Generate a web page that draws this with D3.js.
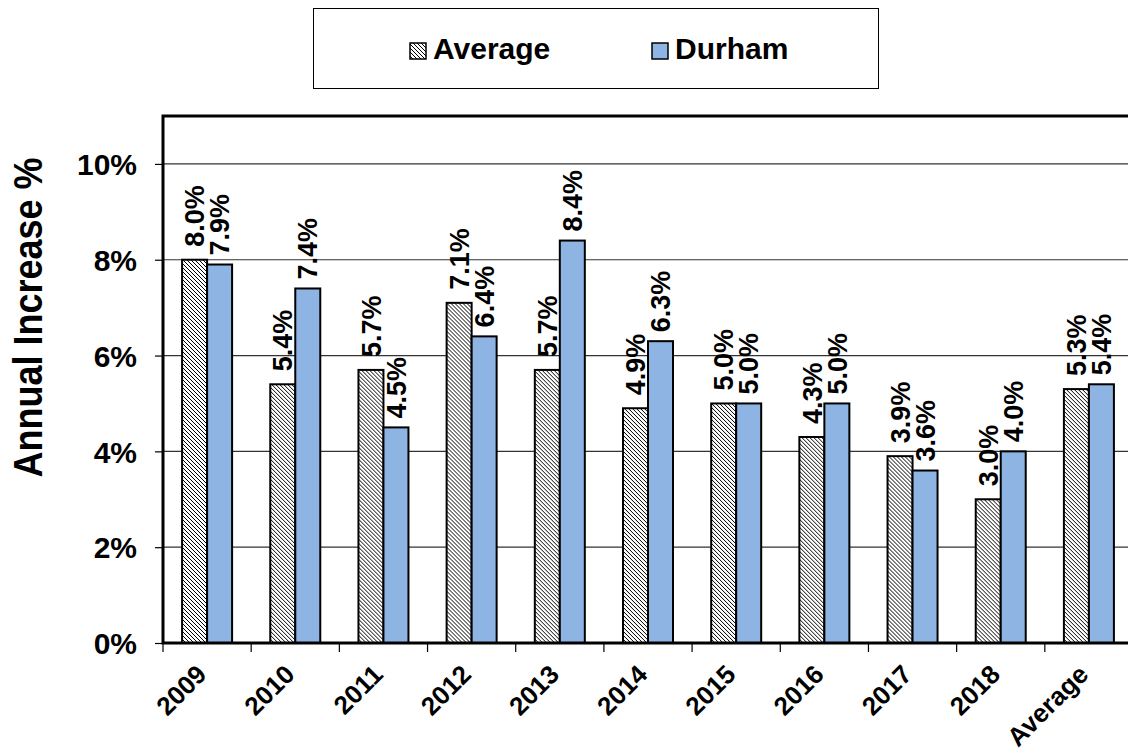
<!DOCTYPE html>
<html>
<head>
<meta charset="utf-8">
<script src="https://cdn.jsdelivr.net/npm/d3@7"></script>
<style>
  html, body { margin: 0; padding: 0; background: #fff; }
  svg { display: block; font-family: "Liberation Sans", Arial, sans-serif; font-weight: bold; }
</style>
</head>
<body>
<svg id="chart" width="1128" height="752"></svg>
<script>
// Annual increase (%) by year, regional average vs. Durham
const categories = ["2009", "2010", "2011", "2012", "2013", "2014", "2015", "2016", "2017", "2018", "Average"];
const seriesNames = ["Average", "Durham"];
const averageValues = [8.0, 5.4, 5.7, 7.1, 5.7, 4.9, 5.0, 4.3, 3.9, 3.0, 5.3];
const durhamValues = [7.9, 7.4, 4.5, 6.4, 8.4, 6.3, 5.0, 5.0, 3.6, 4.0, 5.4];
const yTicks = [0, 2, 4, 6, 8, 10];
const yTitle = "Annual Increase %";

const svg = d3.select("#chart");
const W = 1128, H = 752;
svg.append("rect").attr("width", W).attr("height", H).attr("fill", "#fff");

const plot = { left: 163, top: 116, right: 1133, bottom: 643 };
const durhamFill = "#8db4e2";

// hatched fill for the "Average" series
const defs = svg.append("defs");
const pat = defs.append("pattern")
  .attr("id", "hatch").attr("patternUnits", "userSpaceOnUse")
  .attr("width", 4).attr("height", 4);
pat.append("rect").attr("width", 4).attr("height", 4).attr("fill", "#fff");
pat.append("path").attr("d", "M-1,-1L5,5M-1,3L1,5M3,-1L5,1")
  .attr("stroke", "#000").attr("stroke-width", 1.0);

const x = d3.scaleBand().domain(categories).range([plot.left, plot.right]).padding(0);
const groupHalf = 25;
const x1 = d3.scaleBand().domain(seriesNames)
  .range([x.bandwidth() / 2 - groupHalf, x.bandwidth() / 2 + groupHalf]);
const y = d3.scaleLinear().domain([0, 11]).range([plot.bottom, plot.top]);

// gridlines
svg.append("g").selectAll("line").data(yTicks.filter(d => d > 0)).join("line")
  .attr("x1", plot.left).attr("x2", plot.right)
  .attr("y1", d => y(d)).attr("y2", d => y(d))
  .attr("stroke", "#333").attr("stroke-width", 1.2);

// y axis ticks and labels
const yAxis = d3.axisLeft(y).tickValues(yTicks).tickSize(8).tickFormat(d => d + "%");
const gy = svg.append("g").attr("transform", `translate(${plot.left},0)`).call(yAxis);
gy.select(".domain").remove();
gy.selectAll(".tick line").attr("stroke", "#000").attr("stroke-width", 1.2);
gy.selectAll(".tick text")
  .attr("x", -26).attr("dy", "0.36em")
  .attr("font-size", 30).attr("font-weight", "bold")
  .attr("font-family", "'Liberation Sans', Arial, sans-serif").attr("fill", "#000");

// x axis ticks at category boundaries
const boundaries = categories.map(c => x(c)).concat([plot.right]);
svg.append("g").selectAll("line").data(boundaries).join("line")
  .attr("x1", d => d).attr("x2", d => d)
  .attr("y1", plot.bottom).attr("y2", plot.bottom + 9)
  .attr("stroke", "#000").attr("stroke-width", 1.2);

// category labels, rotated
svg.append("g").selectAll("text").data(categories).join("text")
  .attr("transform", d => `translate(${x(d) + x.bandwidth() / 2 + 1},${plot.bottom + 33}) rotate(-45)`)
  .attr("text-anchor", "end")
  .attr("font-size", 26).attr("fill", "#000")
  .text(d => d);

// bars
const rows = categories.map((c, i) => ({ cat: c, values: [
  { series: "Average", value: averageValues[i] },
  { series: "Durham", value: durhamValues[i] }
]}));

const groups = svg.append("g").selectAll("g").data(rows).join("g")
  .attr("transform", d => `translate(${x(d.cat)},0)`);

groups.selectAll("rect").data(d => d.values).join("rect")
  .attr("x", d => x1(d.series))
  .attr("width", x1.bandwidth())
  .attr("y", d => y(d.value))
  .attr("height", d => y(0) - y(d.value))
  .attr("fill", d => d.series === "Average" ? "url(#hatch)" : durhamFill)
  .attr("stroke", "#000").attr("stroke-width", 2);

// value labels
const labelSize = 27;
groups.selectAll("text").data(d => d.values).join("text")
  .attr("transform", d => {
    const cx = x1(d.series) + x1.bandwidth() / 2 + 0.36 * labelSize;
    const gap = d.series === "Average" ? 13 : 9;
    return `translate(${cx},${y(d.value) - gap}) rotate(-90)`;
  })
  .attr("text-anchor", "start")
  .attr("font-size", labelSize).attr("fill", "#000")
  .text(d => d.value.toFixed(1) + "%");

// plot frame (right edge runs past the viewport)
svg.append("rect")
  .attr("x", plot.left).attr("y", plot.top)
  .attr("width", plot.right - plot.left).attr("height", plot.bottom - plot.top)
  .attr("fill", "none").attr("stroke", "#000").attr("stroke-width", 3);

// y axis title
svg.append("text")
  .attr("transform", `translate(42,${(plot.top + plot.bottom) / 2 - 62}) scale(1.15,1) rotate(-90)`)
  .attr("text-anchor", "middle")
  .attr("font-size", 36).attr("fill", "#000")
  .text(yTitle);

// legend
const legend = svg.append("g");
legend.append("rect")
  .attr("x", 313.5).attr("y", 8.5).attr("width", 565).attr("height", 80)
  .attr("fill", "#fff").attr("stroke", "#000").attr("stroke-width", 1);
const legendItems = [
  { name: "Average", fill: "url(#hatch)", x: 410 },
  { name: "Durham", fill: durhamFill, x: 652 }
];
const li = legend.selectAll("g.item").data(legendItems).join("g")
  .attr("class", "item")
  .attr("transform", d => `translate(${d.x},0)`);
li.append("rect")
  .attr("x", 0).attr("y", 43).attr("width", 16).attr("height", 16)
  .attr("fill", d => d.fill).attr("stroke", "#000").attr("stroke-width", 1.5);
li.append("text")
  .attr("x", 23).attr("y", 59)
  .attr("font-size", 30).attr("fill", "#000")
  .text(d => d.name);
</script>
</body>
</html>
